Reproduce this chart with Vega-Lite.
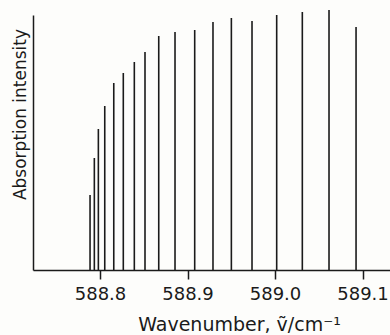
{
  "$schema": "https://vega.github.io/schema/vega-lite/v6.json",
  "width": 357,
  "height": 255,
  "autosize": {"type": "none"},
  "padding": {"left": 33, "top": 15, "right": 0, "bottom": 65},
  "background": "#fdfdfb",
  "config": {"view": {"stroke": null}, "font": "DejaVu Sans"},
  "data": {"values": [
    {"w": 588.7886, "i": 75},
    {"w": 588.7935, "i": 112},
    {"w": 588.7981, "i": 141},
    {"w": 588.8054, "i": 164},
    {"w": 588.8157, "i": 187},
    {"w": 588.8266, "i": 197},
    {"w": 588.8392, "i": 208},
    {"w": 588.8514, "i": 218},
    {"w": 588.8671, "i": 234},
    {"w": 588.8857, "i": 238},
    {"w": 588.9082, "i": 240},
    {"w": 588.9291, "i": 248},
    {"w": 588.9501, "i": 252},
    {"w": 588.9737, "i": 249},
    {"w": 589.0019, "i": 255},
    {"w": 589.0312, "i": 258},
    {"w": 589.0617, "i": 260},
    {"w": 589.0926, "i": 243}
  ]},
  "mark": {"type": "rule", "color": "#1a1a1a", "strokeWidth": 1.6, "clip": false},
  "encoding": {
    "x": {
      "field": "w", "type": "quantitative",
      "scale": {"domain": [588.7234, 589.1314], "nice": false, "zero": false},
      "axis": {
        "values": [588.8, 588.9, 589.0, 589.1], "format": ".1f",
        "title": "Wavenumber, ṽ/cm⁻¹",
        "grid": false, "domainColor": "#1a1a1a", "domainWidth": 1.5,
        "tickColor": "#1a1a1a", "tickWidth": 1.5, "tickSize": 9,
        "labelFontSize": 18, "labelColor": "#1a1a1a", "labelPadding": 6,
        "labelFlush": false,
        "titleFontSize": 19, "titleFontWeight": "normal", "titleColor": "#1a1a1a",
        "titleX": 206, "titleY": 60, "titleBaseline": "alphabetic", "titleAlign": "center"
      }
    },
    "y": {
      "field": "i", "type": "quantitative",
      "scale": {"domain": [0, 255], "nice": false},
      "axis": {
        "title": "Absorption intensity", "grid": false, "ticks": false, "labels": false,
        "domainColor": "#1a1a1a", "domainWidth": 1.5,
        "titleFontSize": 17, "titleFontWeight": "normal", "titleColor": "#1a1a1a",
        "titleX": -13, "titleY": 99, "titleBaseline": "middle", "titleAlign": "center", "titleAngle": -90
      }
    },
    "y2": {"datum": 0}
  }
}
